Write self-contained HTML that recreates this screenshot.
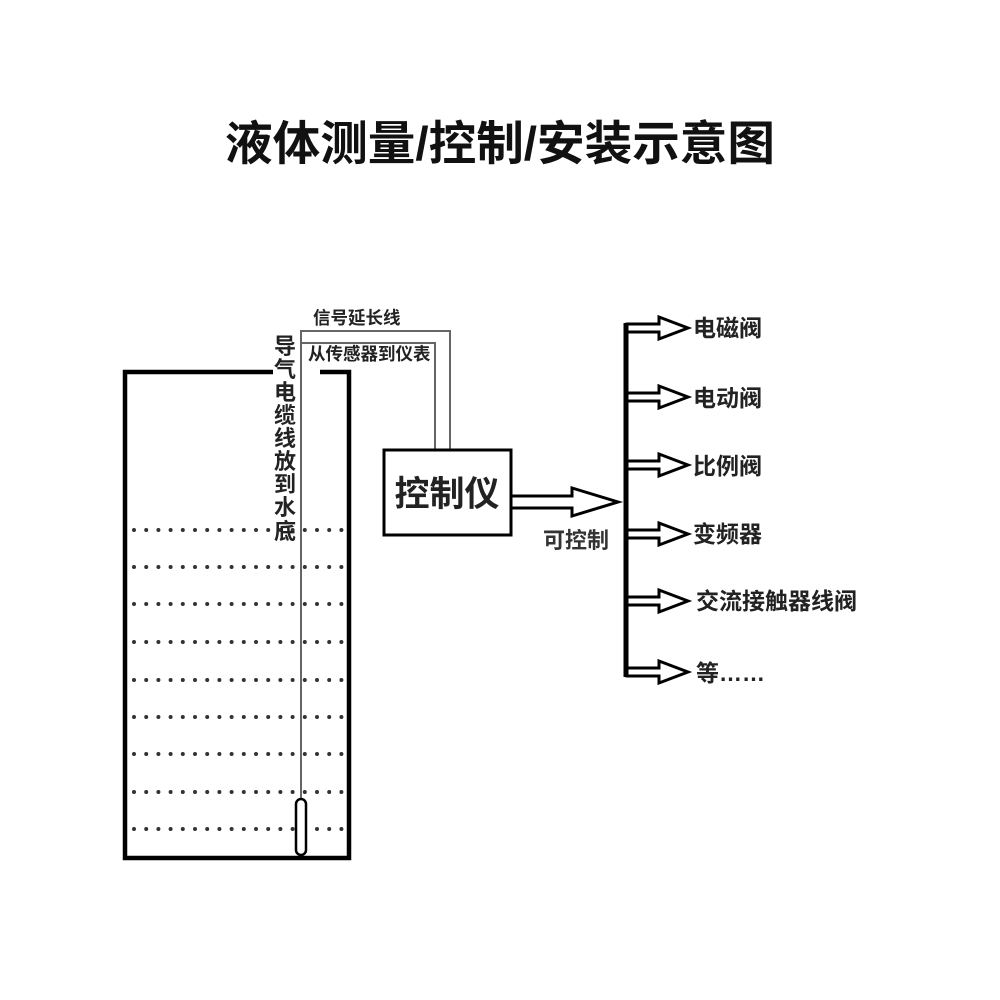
<!DOCTYPE html>
<html><head><meta charset="utf-8"><style>
html,body{margin:0;padding:0;background:#fff;}
svg{display:block;}
text{font-family:"Liberation Sans","Noto Sans CJK SC",sans-serif;fill:#222;}
</style></head><body>
<svg width="1000" height="1000" viewBox="0 0 1000 1000" xmlns="http://www.w3.org/2000/svg">
<rect width="1000" height="1000" fill="#fff"/>
<text x="500" y="160" text-anchor="middle" font-size="47" font-weight="bold" textLength="550" lengthAdjust="spacingAndGlyphs" style="fill:#111">液体测量/控制/安装示意图</text>
<!-- dotted levels -->
<g stroke="#333" stroke-width="4" stroke-linecap="round" stroke-dasharray="0 12.2">
<line x1="134" y1="530" x2="345" y2="530"/>
<line x1="134" y1="567" x2="345" y2="567"/>
<line x1="134" y1="604" x2="345" y2="604"/>
<line x1="134" y1="642" x2="345" y2="642"/>
<line x1="134" y1="680" x2="345" y2="680"/>
<line x1="134" y1="717" x2="345" y2="717"/>
<line x1="134" y1="754" x2="345" y2="754"/>
<line x1="134" y1="792" x2="345" y2="792"/>
<line x1="134" y1="829" x2="345" y2="829"/>
</g>
<!-- tank -->
<path d="M273 372 H125 V858 H349 V372 H320" fill="none" stroke="#000" stroke-width="4.5"/>
<!-- wires -->
<path d="M301 800 V331 H450 V450" fill="none" stroke="#666" stroke-width="2"/>
<path d="M300 343 H435 V450" fill="none" stroke="#666" stroke-width="2"/>
<rect x="296" y="799" width="10" height="56" rx="5" fill="#fff" stroke="#000" stroke-width="2.5"/>
<text x="313" y="324" font-size="17.5" font-weight="bold">信号延长线</text>
<text x="308" y="360" font-size="17.5" font-weight="bold">从传感器到仪表</text>
<g font-size="22" font-weight="bold" text-anchor="middle">
<text x="285" y="354">导</text><text x="285" y="377">气</text><text x="285" y="400">电</text>
<text x="285" y="423">缆</text><text x="285" y="446">线</text><text x="285" y="469">放</text>
<text x="285" y="492">到</text><text x="285" y="515">水</text><text x="285" y="539">底</text>
</g>
<!-- controller -->
<rect x="384" y="450" width="127" height="85" fill="#fff" stroke="#000" stroke-width="3"/>
<text x="447" y="506" text-anchor="middle" font-size="35" font-weight="bold">控制仪</text>
<polygon points="511,496 572,496 572,488 618,502 572,516 572,508 511,508" fill="#fff" stroke="#000" stroke-width="3"/>
<text x="543" y="548" font-size="22" font-weight="bold" style="fill:#333">可控制</text>
<!-- bus -->
<line x1="626" y1="323" x2="626" y2="677" stroke="#000" stroke-width="5"/>
<g fill="#fff" stroke="#000" stroke-width="3">
<polygon points="627,324 659,324 659,317 688,328 659,339 659,332 627,332"/>
<polygon points="627,393 659,393 659,386 688,397 659,408 659,401 627,401"/>
<polygon points="627,461 659,461 659,454 688,465 659,476 659,469 627,469"/>
<polygon points="627,530 659,530 659,523 688,534 659,545 659,538 627,538"/>
<polygon points="627,597 659,597 659,590 688,601 659,612 659,605 627,605"/>
<polygon points="627,668 659,668 659,661 688,672 659,683 659,676 627,676"/>
</g>
<g font-size="23" font-weight="bold">
<text x="693" y="336">电磁阀</text>
<text x="693" y="406">电动阀</text>
<text x="693" y="474">比例阀</text>
<text x="693" y="542">变频器</text>
<text x="696" y="609">交流接触器线阀</text>
<text x="696" y="681">等……</text>
</g>
</svg>
</body></html>
